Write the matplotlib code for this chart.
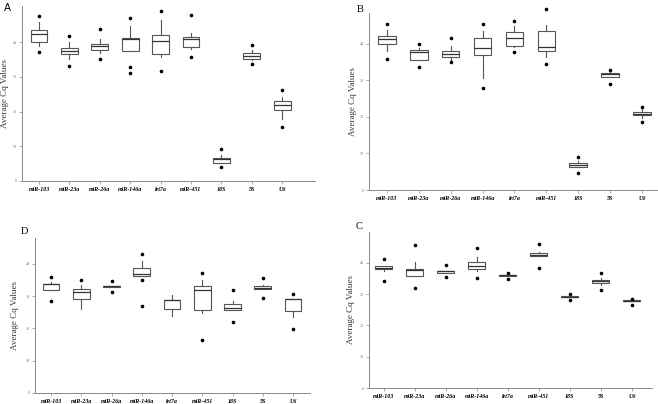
import matplotlib
matplotlib.use("Agg")
import matplotlib.pyplot as plt

genes = ["miR-103", "miR-23a", "miR-26a", "miR-146a", "let7a", "miR-451", "18S", "5S", "U6"]
yticks = [0, 10, 20, 30, 40]

# Panel A
q1_A = [40.0, 36.6, 37.7, 37.4, 36.7, 38.6, 5.3, 35.1, 20.4]
med_A = [42.2, 37.4, 38.8, 41.0, 40.3, 40.9, 6.3, 36.0, 21.8]
q3_A = [43.6, 38.2, 39.6, 41.1, 42.0, 41.5, 6.6, 36.9, 23.0]
lo_A = [39.0, 35.0, 36.9, 37.3, 35.6, 38.0, 5.3, 34.9, 17.8]
hi_A = [45.9, 40.0, 41.0, 44.7, 46.3, 42.5, 7.4, 37.7, 24.2]
fl_A = [[47.5, 37.2], [41.9, 33.1], [43.9, 35.0], [47.0, 32.9, 31.0], [49.0, 31.8],
        [47.9, 35.6], [9.2, 4.0], [39.2, 33.6], [26.2, 15.6]]

# Panel B
q1_B = [40.0, 35.6, 36.3, 36.9, 39.5, 37.9, 6.2, 31.0, 20.4]
med_B = [41.3, 37.8, 37.3, 38.8, 41.6, 39.0, 6.9, 31.6, 20.8]
q3_B = [42.2, 38.2, 38.1, 41.6, 43.1, 43.4, 7.4, 31.9, 21.2]
lo_B = [37.9, 35.6, 35.6, 30.5, 39.1, 36.3, 6.2, 31.0, 19.6]
hi_B = [43.7, 38.8, 39.5, 43.4, 44.9, 45.2, 7.8, 32.6, 22.1]
fl_B = [[45.5, 35.9], [40.0, 33.5], [41.7, 35.1], [45.5, 28.0], [46.3, 37.7],
        [49.5, 34.5], [9.1, 4.7], [32.7, 29.1], [22.8, 18.7]]

# Panel D
q1_D = [32.0, 29.1, 32.9, 36.1, 26.0, 25.8, 25.6, 32.3, 25.5]
med_D = [33.7, 31.3, 33.1, 36.8, 28.9, 32.0, 26.3, 32.5, 29.2]
q3_D = [33.8, 32.2, 33.2, 38.7, 28.9, 33.1, 27.6, 33.1, 29.2]
lo_D = [32.0, 26.0, 32.9, 36.1, 23.8, 24.8, 25.6, 32.3, 23.6]
hi_D = [34.4, 33.3, 33.2, 41.0, 30.2, 35.1, 28.5, 33.6, 29.2]
fl_D = [[35.8, 28.6], [35.0], [34.7, 31.2], [42.9, 34.9, 26.9], [],
        [37.3, 16.3], [31.9, 22.0], [35.6, 29.4], [30.8, 19.9]]

# Panel C
q1_C = [37.9, 35.9, 36.8, 38.1, 35.9, 42.1, 28.9, 33.4, 27.7]
med_C = [38.3, 37.6, 37.2, 38.8, 36.0, 42.6, 29.2, 34.0, 27.9]
q3_C = [39.0, 37.9, 37.4, 40.3, 36.2, 43.0, 29.4, 34.6, 28.0]
lo_C = [37.5, 35.6, 36.8, 37.2, 35.9, 42.1, 28.9, 33.0, 27.7]
hi_C = [39.0, 40.2, 37.4, 41.8, 36.2, 43.4, 29.4, 35.1, 28.0]
fl_C = [[41.3, 34.0], [45.7, 32.0], [39.3, 35.5], [44.7, 35.1], [36.8, 34.8],
        [46.0, 38.3], [29.9, 28.0], [36.7, 31.2], [28.3, 26.5]]

W, H = 658, 404
fig = plt.figure(figsize=(W / 100, H / 100), dpi=100)

def px_axes(left, right, top, bottom):
    return fig.add_axes([left / W, 1 - bottom / H, (right - left) / W, (bottom - top) / H])

panels = [
    ("A", (4, 8), "DejaVu Sans", (22, 315, 6, 181), 50.4, (0.44, 10.08), 5,
     (q1_A, med_A, q3_A, lo_A, hi_A, fl_A)),
    ("B", (357, 9), "Liberation Serif", (369, 658, 13, 190), 48.4, (0.44, 9.5), 353,
     (q1_B, med_B, q3_B, lo_B, hi_B, fl_B)),
    ("D", (21, 232), "Liberation Serif", (35, 310, 238, 393), 48.0, (0.47, 9.56), 15,
     (q1_D, med_D, q3_D, lo_D, hi_D, fl_D)),
    ("C", (356, 226), "Liberation Serif", (369, 652, 232, 388), 49.8, (0.52, 9.65), 351,
     (q1_C, med_C, q3_C, lo_C, hi_C, fl_C)),
]

for letter, lpos, lfont, box, ytop, xl, ylx, data in panels:
    left, right, top, bottom = box
    ax = px_axes(left, right, top, bottom)
    q1, med, q3, lo, hi, fl = data
    stats = []
    for i in range(len(genes)):
        stats.append(dict(q1=q1[i], med=med[i], q3=q3[i], whislo=lo[i], whishi=hi[i],
                          fliers=fl[i], label=genes[i]))
    ax.bxp(stats, positions=range(1, len(genes) + 1), widths=0.55, patch_artist=True,
           showcaps=False,
           boxprops=dict(facecolor="white", edgecolor="#555555", linewidth=0.8),
           medianprops=dict(color="#333333", linewidth=0.9),
           whiskerprops=dict(color="#555555", linewidth=0.8),
           flierprops=dict(marker="o", markersize=1.6, markerfacecolor="black",
                           markeredgecolor="black", linestyle="none"))
    for l in ax.lines:
        l.set_clip_on(False)
    ax.set_xlim(*xl)
    ax.set_ylim(0, ytop)
    ax.set_yticks(yticks)
    ax.set_yticklabels([str(t) for t in yticks], fontsize=3, color="#777777",
                       family="Liberation Serif")
    ax.set_xticks(range(1, len(genes) + 1))
    ax.set_xticklabels(genes, fontsize=4.3, fontweight="bold", fontstyle="italic",
                       family="Liberation Serif", color="black")
    ax.tick_params(axis="both", length=2, width=0.5, color="#888888", pad=1.5)
    ax.tick_params(axis="x", pad=2.5)
    for s in ["top", "right"]:
        ax.spines[s].set_visible(False)
    for s in ["left", "bottom"]:
        ax.spines[s].set_color("#888888")
        ax.spines[s].set_linewidth(0.7)
    ax.patch.set_alpha(0)
    fig.text(ylx / W, 1 - ((top + bottom) / 2) / H, "Average Cq Values", rotation=90,
             ha="center", va="center", fontsize=6.5, family="Liberation Serif",
             color="#333333")
    fig.text(lpos[0] / W, 1 - lpos[1] / H, letter, ha="left", va="center",
             fontsize=7.5, family=lfont, color="black")

fig.savefig("out.png", dpi=100)
